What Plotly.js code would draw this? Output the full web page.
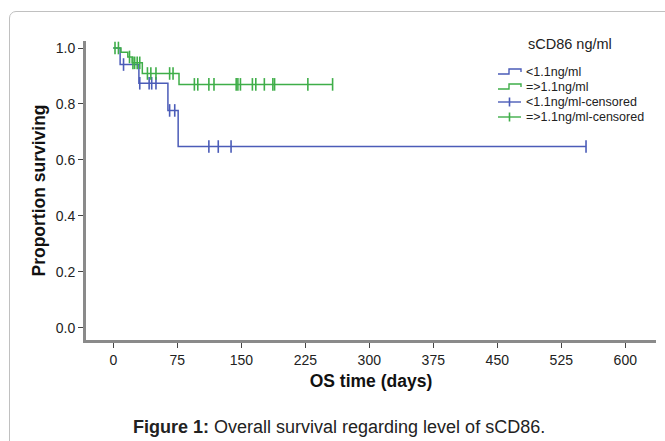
<!DOCTYPE html>
<html>
<head>
<meta charset="utf-8">
<script src="https://cdn.plot.ly/plotly-3.0.1.min.js"></script>
<style>
  html, body { margin: 0; padding: 0; background: #fff; overflow: hidden; }
  #wrap { position: relative; width: 665px; height: 441px; }
  #frame { position: absolute; left: 9px; top: 11px; width: 700px; height: 500px;
           border: 1px solid #c0c0c0; border-top-left-radius: 7px; box-sizing: border-box; }
  #chart { position: absolute; left: 0; top: 0; width: 665px; height: 441px; }
</style>
</head>
<body>
<div id="wrap"><div id="frame"></div><div id="chart"></div></div>
<script>
// ---- data ----
const lowEventDays = [0, 8, 30, 64, 76];
const lowSurvival = [1.0, 0.941, 0.874, 0.777, 0.648];
const lowLastDay = 554;
const lowCensorDays = [12, 31, 42, 45, 50, 66, 72, 112, 123, 138, 554];

const highEventDays = [0, 9, 17, 22, 34, 77];
const highSurvival = [1.0, 0.985, 0.968, 0.947, 0.909, 0.870];
const highLastDay = 257;
const highCensorDays = [2, 6, 19, 23, 25, 28, 31, 40, 44, 50, 66, 70, 95, 99, 112, 118, 144, 146, 149, 163, 167, 177, 187, 189, 228, 257];

const legendTitle = 'sCD86 ng/ml';
const seriesNames = ['<1.1ng/ml', '=>1.1ng/ml', '<1.1ng/ml-censored', '=>1.1ng/ml-censored'];
const xTicks = [0, 75, 150, 225, 300, 375, 450, 525, 600];
const yTicks = [0.0, 0.2, 0.4, 0.6, 0.8, 1.0];

const blue = '#4b5cb8';
const green = '#3fae49';

function stepAt(days, surv, t) {
  let s = surv[0];
  for (let i = 0; i < days.length; i++) { if (days[i] <= t) s = surv[i]; }
  return s;
}
function withGaps(arr) {
  const out = [];
  arr.forEach((v, i) => { out.push(v); if (i < arr.length - 1) out.push(null); });
  return out;
}

const lowX = lowEventDays.concat([lowLastDay]);
const lowY = lowSurvival.concat([lowSurvival[lowSurvival.length - 1]]);
const highX = highEventDays.concat([highLastDay]);
const highY = highSurvival.concat([highSurvival[highSurvival.length - 1]]);

const lowCY = lowCensorDays.map(t => stepAt(lowEventDays, lowSurvival, t));
const highCY = highCensorDays.map(t => stepAt(highEventDays, highSurvival, t));

const censorMarker = c => ({ symbol: 'line-ns', size: 9, color: c, line: { color: c, width: 1.6 } });

const traces = [
  { x: lowX, y: lowY, name: seriesNames[0], mode: 'lines', line: { shape: 'hv', color: blue, width: 1.5 } },
  { x: highX, y: highY, name: seriesNames[1], mode: 'lines', line: { shape: 'hv', color: green, width: 1.5 } },
  { x: withGaps(lowCensorDays), y: withGaps(lowCY), name: seriesNames[2], mode: 'markers',
    marker: censorMarker(blue) },
  { x: withGaps(highCensorDays), y: withGaps(highCY), name: seriesNames[3], mode: 'markers',
    marker: censorMarker(green) }
];

const font = 'Arial, "Liberation Sans", sans-serif';

// plot area geometry (pixels) and helpers to place the hand-made legend
const W = 665, H = 441, ML = 86, MR = 9, MT = 41, MB = 101;
const PW = W - ML - MR, PH = H - MT - MB;
const px = x => (x - ML) / PW;
const py = y => (MT + PH - y) / PH;

const legendRows = [72, 87, 102, 117];
const legendColors = [blue, green, blue, green];
const iconX0 = 498, iconX1 = 521, textX = 524;

const shapes = [];
const annotations = [];
legendRows.forEach((ry, i) => {
  const c = legendColors[i];
  if (i < 2) {
    shapes.push({ type: 'path', xref: 'paper', yref: 'paper',
      path: `M ${px(iconX0)} ${py(ry + 2)} H ${px(509)} V ${py(ry - 3)} H ${px(iconX1)} V ${py(ry)}`,
      line: { color: c, width: 1.4 } });
  } else {
    shapes.push({ type: 'line', xref: 'paper', yref: 'paper',
      x0: px(iconX0), x1: px(iconX1), y0: py(ry), y1: py(ry), line: { color: c, width: 1.4 } });
    shapes.push({ type: 'line', xref: 'paper', yref: 'paper',
      x0: px(509.5), x1: px(509.5), y0: py(ry - 4.5), y1: py(ry + 4.5), line: { color: c, width: 1.6 } });
  }
  annotations.push({ xref: 'paper', yref: 'paper', x: px(textX), y: py(ry), xanchor: 'left', yanchor: 'middle',
    showarrow: false, text: seriesNames[i].replace(/</g, '&lt;'), font: { size: 12.5, color: '#222', family: font } });
});
annotations.push({ xref: 'paper', yref: 'paper', x: px(570), y: py(44), xanchor: 'center', yanchor: 'middle',
  showarrow: false, text: legendTitle, font: { size: 14.5, color: '#222', family: font } });
annotations.push({ xref: 'paper', yref: 'paper', x: px(339), y: py(427), xanchor: 'center', yanchor: 'middle',
  showarrow: false, text: '<b>Figure 1:</b> Overall survival regarding level of sCD86.',
  font: { size: 18, color: '#222', family: font } });

const layout = {
  width: W, height: H,
  margin: { l: ML, r: MR, t: MT, b: MB },
  paper_bgcolor: 'rgba(0,0,0,0)',
  plot_bgcolor: 'rgba(0,0,0,0)',
  font: { family: font, color: '#222', size: 14 },
  showlegend: false,
  xaxis: {
    range: [-32, 636], tickvals: xTicks, ticktext: xTicks.map(String),
    showgrid: false, zeroline: false, showline: true, linecolor: '#8a8a8a', linewidth: 3,
    ticks: 'outside', ticklen: 5, tickcolor: '#444', tickwidth: 1,
    tickfont: { size: 14, color: '#222' },
    title: { text: 'OS time (days)', font: { size: 17.5, color: '#111', family: font, weight: 'bold' }, standoff: 8 }
  },
  yaxis: {
    range: [-0.043, 1.025], tickvals: yTicks, ticktext: yTicks.map(v => v.toFixed(1)),
    showgrid: false, zeroline: false, showline: true, linecolor: '#8a8a8a', linewidth: 3,
    ticks: 'outside', ticklen: 5, tickcolor: '#444', tickwidth: 1,
    tickfont: { size: 14, color: '#222' },
    title: { text: 'Proportion surviving', font: { size: 17.5, color: '#111', family: font, weight: 'bold' }, standoff: 6 }
  },
  shapes: shapes,
  annotations: annotations
};

Plotly.newPlot('chart', traces, layout, { displayModeBar: false, staticPlot: true });
</script>
</body>
</html>
